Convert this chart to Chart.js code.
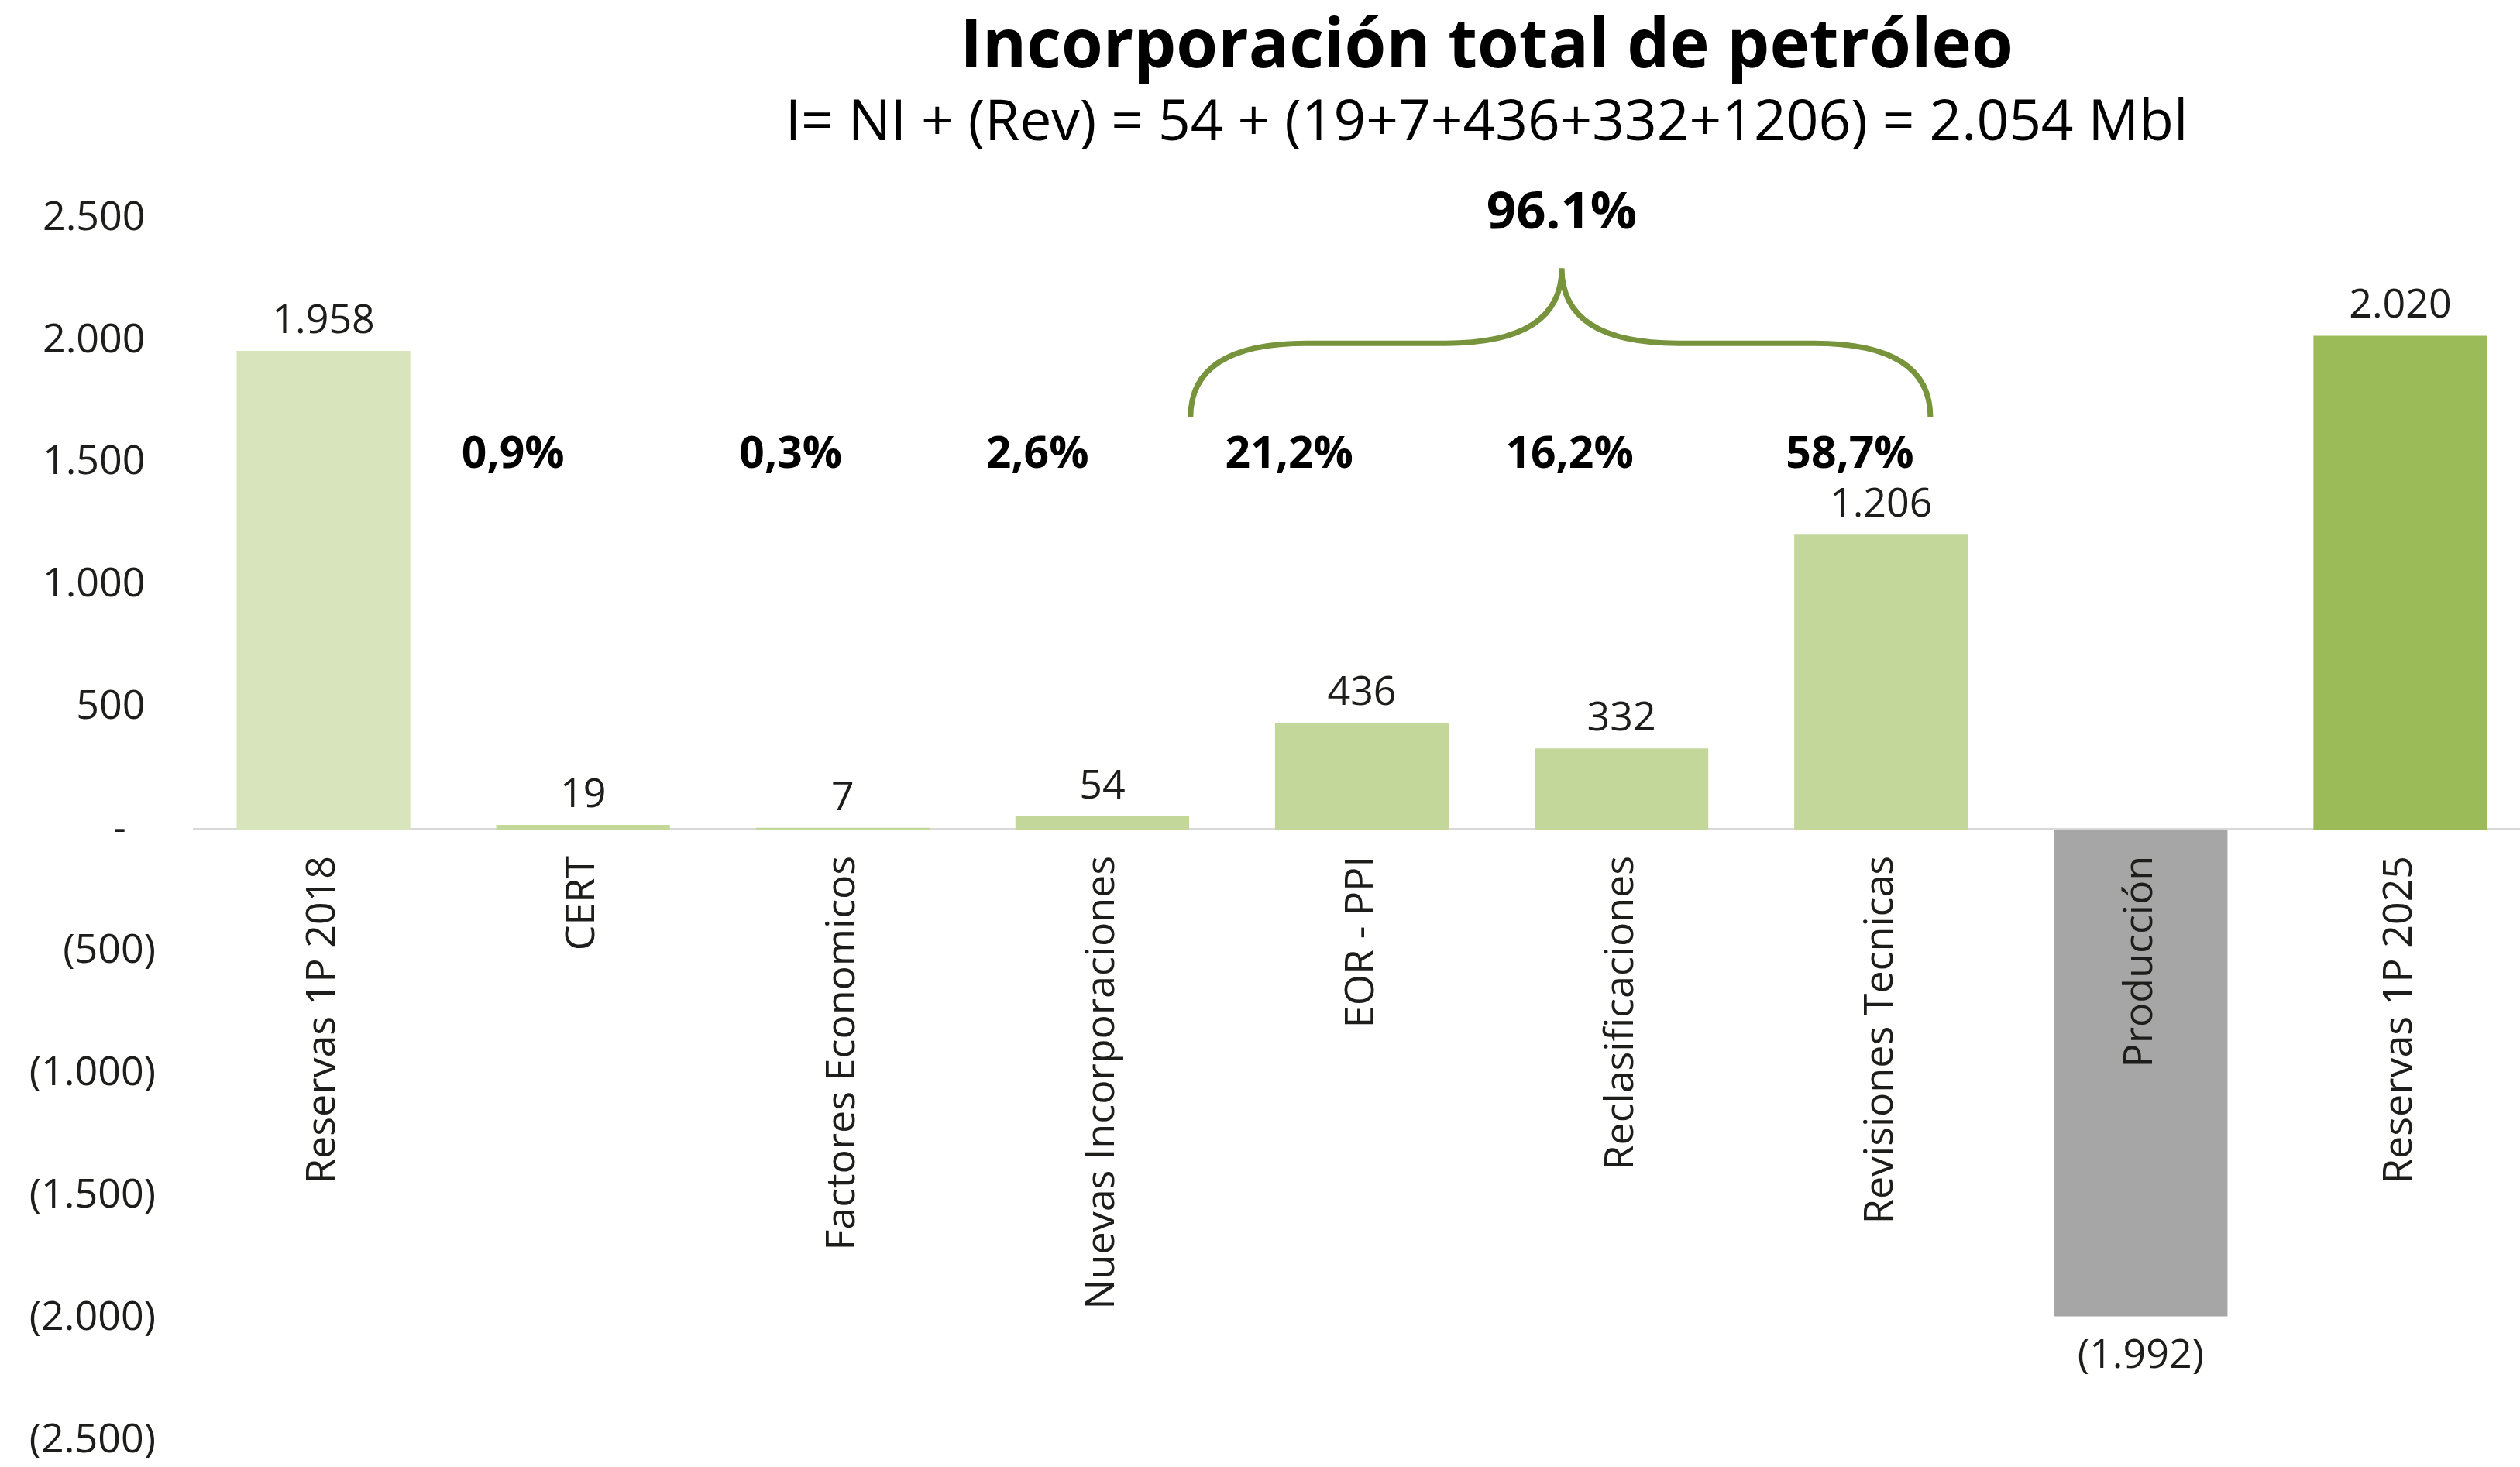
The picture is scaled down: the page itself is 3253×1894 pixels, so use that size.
<!DOCTYPE html>
<html lang="es">
<head>
<meta charset="utf-8">
<title>Incorporación total de petróleo</title>
<script src="https://cdn.jsdelivr.net/npm/chart.js@4.4.1/dist/chart.umd.min.js"></script>
<style>
  html, body { margin: 0; padding: 0; background: #fff; overflow: hidden; }
  #marco { width: 3253px; height: 1894px; overflow: hidden; }
  #grafico { display: block; }
</style>
</head>
<body>
<div id="marco"><canvas id="grafico" width="3266" height="1940"></canvas></div>
<script>
// datos
const categorias = [
    "Reservas 1P 2018", "CERT", "Factores Economicos", "Nuevas Incorporaciones",
    "EOR - PPI", "Reclasificaciones", "Revisiones Tecnicas", "Producción", "Reservas 1P 2025"
];
const valores = [1958, 19, 7, 54, 436, 332, 1206, -1992, 2020];
const porcentajes = ["0,9%", "0,3%", "2,6%", "21,2%", "16,2%", "58,7%"];
const totalLlave = "96.1%";
const ticksY = [-2500, -2000, -1500, -1000, -500, 0, 500, 1000, 1500, 2000, 2500];

const titulo = "Incorporación total de petróleo";
const subtitulo = "I= NI + (Rev) = 54 + (19+7+436+332+1206) = 2.054 Mbl";

// estilos / ubicaciones
const coloresBarra = ["#d8e4bc", "#c4d79b", "#c4d79b", "#c4d79b", "#c4d79b", "#c4d79b", "#c4d79b", "#a6a6a6", "#9bbb59"];
const xPorcentajes = [0.73, 1.80, 2.75, 3.72, 4.80, 5.88]; // en unidades de categoria
const yPorcentajes = 1530;
const llave = { x0: 3.34, x1: 6.19, xPico: 4.77, yBase: 1686, yMedio: 1989, yPico: 2296, yTexto: 2520 };
const FUENTE = "'Open Sans', 'Noto Sans', sans-serif";
const colorTexto = "#1d1d1b";

function formatoNumero(n) {
    const s = Math.abs(n).toString().replace(/\B(?=(\d{3})+(?!\d))/g, ".");
    return n < 0 ? `(${s})` : s;
}

function formatoTick(v) {
    if (v === 0) return "-\u2007\u2009";
    if (v < 0) return formatoNumero(v);
    return formatoNumero(v) + " ";
}

// posicion x (pixel) para una posicion fraccional de categoria
function xCat(escala, pos) {
    const i = Math.floor(pos);
    const f = pos - i;
    const a = escala.getPixelForValue(i);
    const b = escala.getPixelForValue(i + 1);
    return a + (b - a) * f;
}

const pluginEtiquetas = {
    id: "etiquetas",
    afterDatasetsDraw(chart) {
        const ctx = chart.ctx;
        const meta = chart.getDatasetMeta(0);
        ctx.save();
        ctx.fillStyle = colorTexto;
        ctx.font = `52px ${FUENTE}`;
        ctx.textAlign = "center";
        meta.data.forEach((bar, i) => {
            const v = valores[i];
            if (v >= 0) {
                ctx.textBaseline = "bottom";
                ctx.fillText(formatoNumero(v), bar.x, bar.y - 12);
            } else {
                ctx.textBaseline = "top";
                ctx.fillText(formatoNumero(v), bar.x, bar.y + 26);
            }
        });

        const sx = chart.scales.x;
        const sy = chart.scales.y;

        // porcentajes
        ctx.fillStyle = "#000";
        ctx.font = `bold 57px ${FUENTE}`;
        ctx.textBaseline = "middle";
        porcentajes.forEach((p, i) => {
            ctx.fillText(p, xCat(sx, xPorcentajes[i]), sy.getPixelForValue(yPorcentajes));
        });

        // llave
        const x0 = xCat(sx, llave.x0), x1 = xCat(sx, llave.x1), xp = xCat(sx, llave.xPico);
        const yb = sy.getPixelForValue(llave.yBase);
        const ym = sy.getPixelForValue(llave.yMedio);
        const yp = sy.getPixelForValue(llave.yPico);
        const r = 150;
        ctx.strokeStyle = "#77933c";
        ctx.lineWidth = 7;
        ctx.beginPath();
        ctx.moveTo(x0, yb);
        ctx.quadraticCurveTo(x0, ym, x0 + r, ym);
        ctx.lineTo(xp - r, ym);
        ctx.quadraticCurveTo(xp, ym, xp, yp);
        ctx.quadraticCurveTo(xp, ym, xp + r, ym);
        ctx.lineTo(x1 - r, ym);
        ctx.quadraticCurveTo(x1, ym, x1, yb);
        ctx.stroke();

        ctx.font = `bold 67px ${FUENTE}`;
        ctx.fillText(totalLlave, xp, sy.getPixelForValue(llave.yTexto));

        // titulos
        ctx.fillStyle = "#000";
        ctx.font = `bold 87px ${FUENTE}`;
        ctx.fillText(titulo, 1919, 62);
        ctx.font = `73px ${FUENTE}`;
        ctx.fillText(subtitulo, 1919, 160);
        ctx.restore();
    }
};

const ctx = document.getElementById("grafico").getContext("2d");
new Chart(ctx, {
    type: "bar",
    data: {
        labels: categorias,
        datasets: [{
            data: valores,
            backgroundColor: coloresBarra,
            barPercentage: 0.669,
            categoryPercentage: 1.0
        }]
    },
    options: {
        responsive: false,
        animation: false,
        devicePixelRatio: 1,
        layout: { padding: { top: 282, bottom: 0, left: 0, right: 0 } },
        plugins: {
            legend: { display: false },
            tooltip: { enabled: false },
            title: { display: false }
        },
        scales: {
            x: {
                position: { y: 0 },
                grid: { display: false, drawTicks: false },
                border: { display: true, color: "#d9d9d9", width: 3 },
                ticks: {
                    z: 1,
                    autoSkip: false,
                    minRotation: 90,
                    maxRotation: 90,
                    padding: 34,
                    color: colorTexto,
                    font: { family: FUENTE, size: 52 }
                }
            },
            y: {
                min: -2500,
                max: 2500,
                afterBuildTicks: s => { s.ticks = ticksY.map(v => ({ value: v })); },
                afterFit: s => { s.width = 250; },
                grid: { display: false, drawTicks: false },
                border: { display: false },
                ticks: {
                    padding: 49,
                    color: colorTexto,
                    font: { family: FUENTE, size: 52 },
                    callback: v => formatoTick(v)
                }
            }
        }
    },
    plugins: [pluginEtiquetas]
});
</script>
</body>
</html>
